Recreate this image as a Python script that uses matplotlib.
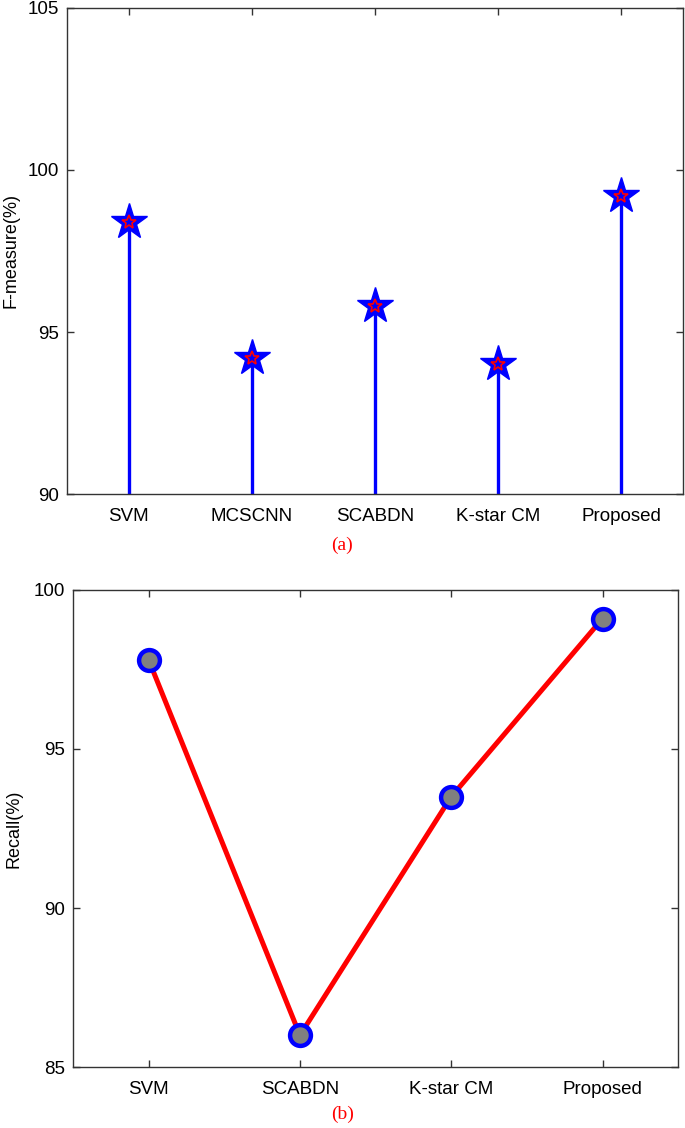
import matplotlib

matplotlib.use("Agg")
import matplotlib.pyplot as plt

plt.rcParams["font.family"] = ["Liberation Sans", "DejaVu Sans"]

# panel (a): F-measure stem plot
fm_methods = ["SVM", "MCSCNN", "SCABDN", "K-star CM", "Proposed"]
fm_values = [98.4, 94.2, 95.8, 94.0, 99.2]
fm_ticks = [90, 95, 100, 105]

# panel (b): recall line plot
rc_methods = ["SVM", "SCABDN", "K-star CM", "Proposed"]
rc_values = [97.8, 86.0, 93.5, 99.1]
rc_ticks = [85, 90, 95, 100]

SPINE = "#333333"
FS = 13.5


def style_axis(ax):
    for side in ax.spines.values():
        side.set_color(SPINE)
        side.set_linewidth(1.0)
    ax.tick_params(direction="in", length=5, width=1.0, color=SPINE,
                   top=True, right=True, labelsize=FS, pad=6)
    ax.tick_params(axis="x", pad=10)


fig = plt.figure(figsize=(6.85, 11.28), dpi=100)

# ---- (a)
ax1 = fig.add_axes([0.0978, 0.562, 0.899, 0.431])
x1 = list(range(1, len(fm_methods) + 1))
ax1.vlines(x1, 90, fm_values, color="#0000ff", linewidth=2.4, zorder=2)
ax1.plot(x1, fm_values, linestyle="none", marker="*", markersize=27,
         markerfacecolor="#0000ff", markeredgecolor="#0000ff", zorder=3)
ax1.plot(x1, fm_values, linestyle="none", marker="*", markersize=10,
         markerfacecolor="#0000ff", markeredgecolor="#ff0000",
         markeredgewidth=1.2, zorder=4)
ax1.set_xlim(0.5, len(fm_methods) + 0.5)
ax1.set_ylim(90, 105)
ax1.set_xticks(x1)
ax1.set_xticklabels(fm_methods)
ax1.set_yticks(fm_ticks)
ax1.set_ylabel("F-measure(%)", fontsize=13)
ax1.yaxis.set_label_coords(-0.077, 0.5)
style_axis(ax1)
fig.text(0.4995, 1 - 545 / 1128, "(a)", color="#ff0000", ha="center",
         va="center", fontsize=14, family="Liberation Serif")

# ---- (b)
ax2 = fig.add_axes([0.1066, 0.054, 0.8834, 0.423])
x2 = list(range(1, len(rc_methods) + 1))
ax2.plot(x2, rc_values, color="#ff0000", linewidth=3.6, marker="o",
         markersize=15, markerfacecolor="#808080", markeredgecolor="#0000ff",
         markeredgewidth=3.2, zorder=3)
ax2.set_xlim(0.5, len(rc_methods) + 0.5)
ax2.set_ylim(85, 100)
ax2.set_xticks(x2)
ax2.set_xticklabels(rc_methods)
ax2.set_yticks(rc_ticks)
ax2.set_ylabel("Recall(%)", fontsize=13)
ax2.yaxis.set_label_coords(-0.083, 0.5)
style_axis(ax2)
fig.text(0.5, 1 - 1114 / 1128, "(b)", color="#ff0000", ha="center",
         va="center", fontsize=14, family="Liberation Serif")

fig.savefig("out.png", dpi=100)
plt.close(fig)
